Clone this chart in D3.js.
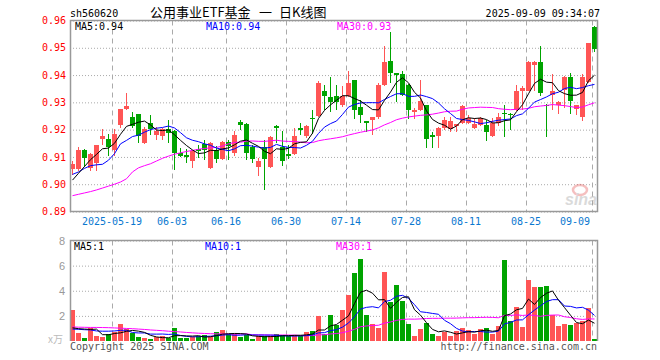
<!DOCTYPE html>
<html>
<head>
<meta charset="utf-8">
<script src="https://cdn.jsdelivr.net/npm/d3@7"></script>
<style>
  body { margin: 0; background: #fff; }
  svg { display: block; }
</style>
</head>
<body>
<svg width="660" height="360"></svg>
<script>
/*
    Sina style daily K-line chart for sh560620 (公用事业ETF基金)
    price candles + MA5/10/30 on top, volume bars + MA below
*/

// trading days shown on the chart
var dates = [
    "2025-05-08","2025-05-09","2025-05-12","2025-05-13","2025-05-14","2025-05-15","2025-05-16",
    "2025-05-19","2025-05-20","2025-05-21","2025-05-22","2025-05-23","2025-05-26","2025-05-27",
    "2025-05-28","2025-05-29","2025-05-30","2025-06-03","2025-06-04","2025-06-05","2025-06-06",
    "2025-06-09","2025-06-10","2025-06-11","2025-06-12","2025-06-13","2025-06-16","2025-06-17",
    "2025-06-18","2025-06-19","2025-06-20","2025-06-23","2025-06-24","2025-06-25","2025-06-26",
    "2025-06-27","2025-06-30","2025-07-01","2025-07-02","2025-07-03","2025-07-04","2025-07-07",
    "2025-07-08","2025-07-09","2025-07-10","2025-07-11","2025-07-14","2025-07-15","2025-07-16",
    "2025-07-17","2025-07-18","2025-07-21","2025-07-22","2025-07-23","2025-07-24","2025-07-25",
    "2025-07-28","2025-07-29","2025-07-30","2025-07-31","2025-08-01","2025-08-04","2025-08-05",
    "2025-08-06","2025-08-07","2025-08-08","2025-08-11","2025-08-12","2025-08-13","2025-08-14",
    "2025-08-15","2025-08-18","2025-08-19","2025-08-20","2025-08-21","2025-08-22","2025-08-25",
    "2025-08-26","2025-08-27","2025-08-28","2025-08-29","2025-09-01","2025-09-02","2025-09-03",
    "2025-09-04","2025-09-05","2025-09-08","2025-09-09"
];

var openP = [
    0.9055,0.9055,0.9125,0.9060,0.9078,0.9165,0.9165,0.9125,0.9216,0.9277,
    0.9246,0.9256,0.9152,0.9223,0.9181,0.9177,0.9204,0.9195,0.9114,0.9106,
    0.9085,0.9128,0.9148,0.9060,0.9127,0.9094,0.9154,0.9115,0.9228,0.9222,
    0.9137,0.9062,0.9137,0.9062,0.9215,0.9135,0.9112,0.9112,0.9206,0.9176,
    0.9244,0.9249,0.9342,0.9321,0.9323,0.9291,0.9325,0.9383,0.9283,0.9233,
    0.9235,0.9245,0.9365,0.9453,0.9406,0.9405,0.9365,0.9263,0.9273,0.9291,
    0.9181,0.9175,0.9206,0.9203,0.9214,0.9224,0.9224,0.9206,0.9218,0.9218,
    0.9175,0.9224,0.9261,0.9259,0.9273,0.9343,0.9343,0.9436,0.9447,0.9292,
    0.9328,0.9291,0.9347,0.9393,0.9275,0.9245,0.9374,0.9577
];
var highP = [
    0.9085,0.9138,0.9128,0.9115,0.9145,0.9203,0.9183,0.9203,0.9276,0.9334,
    0.9265,0.9258,0.9208,0.9255,0.9208,0.9207,0.9235,0.9198,0.9133,0.9130,
    0.9127,0.9143,0.9163,0.9155,0.9139,0.9158,0.9163,0.9194,0.9234,0.9225,
    0.9145,0.9096,0.9163,0.9175,0.9217,0.9194,0.9145,0.9206,0.9226,0.9218,
    0.9273,0.9377,0.9365,0.9392,0.9365,0.9359,0.9414,0.9383,0.9310,0.9233,
    0.9246,0.9371,0.9506,0.9558,0.9408,0.9414,0.9367,0.9279,0.9383,0.9292,
    0.9190,0.9208,0.9245,0.9245,0.9222,0.9292,0.9255,0.9242,0.9246,0.9236,
    0.9242,0.9261,0.9291,0.9260,0.9365,0.9361,0.9453,0.9450,0.9506,0.9295,
    0.9405,0.9304,0.9396,0.9408,0.9292,0.9405,0.9518,0.9580
];
var lowP = [
    0.9035,0.9050,0.9064,0.9050,0.9050,0.9142,0.9102,0.9103,0.9207,0.9272,
    0.9207,0.9152,0.9148,0.9180,0.9162,0.9163,0.9152,0.9051,0.9100,0.9078,
    0.9058,0.9097,0.9090,0.9057,0.9078,0.9090,0.9090,0.9103,0.9200,0.9090,
    0.9078,0.9030,0.8980,0.9058,0.9150,0.9066,0.9093,0.9108,0.9180,0.9170,
    0.9185,0.9245,0.9272,0.9266,0.9273,0.9283,0.9320,0.9240,0.9224,0.9193,
    0.9181,0.9240,0.9360,0.9371,0.9300,0.9325,0.9240,0.9240,0.9270,0.9134,
    0.9132,0.9132,0.9200,0.9193,0.9190,0.9220,0.9220,0.9204,0.9212,0.9160,
    0.9172,0.9212,0.9172,0.9200,0.9270,0.9273,0.9340,0.9343,0.9322,0.9172,
    0.9271,0.9257,0.9280,0.9257,0.9253,0.9230,0.9370,0.9484
];
var closeP = [
    0.9073,0.9125,0.9095,0.9110,0.9143,0.9177,0.9137,0.9183,0.9275,0.9288,
    0.9214,0.9176,0.9204,0.9204,0.9195,0.9204,0.9189,0.9113,0.9103,0.9100,
    0.9123,0.9123,0.9125,0.9151,0.9094,0.9154,0.9141,0.9182,0.9218,0.9115,
    0.9094,0.9084,0.9093,0.9173,0.9205,0.9084,0.9102,0.9176,0.9200,0.9215,
    0.9242,0.9372,0.9324,0.9301,0.9300,0.9325,0.9371,0.9273,0.9255,0.9224,
    0.9245,0.9365,0.9447,0.9408,0.9402,0.9328,0.9273,0.9273,0.9304,0.9165,
    0.9172,0.9206,0.9234,0.9233,0.9221,0.9288,0.9242,0.9220,0.9242,0.9193,
    0.9226,0.9246,0.9257,0.9257,0.9343,0.9353,0.9447,0.9447,0.9334,0.9289,
    0.9343,0.9301,0.9393,0.9304,0.9291,0.9393,0.9516,0.9494
];

// volume, in units of the volume axis
var volume = [
    2.50,0.60,0.21,1.05,0.37,0.29,0.56,0.71,1.32,0.97,
    0.65,0.28,0.21,0.15,0.33,0.37,0.24,1.00,0.21,0.21,
    0.30,0.40,0.45,0.33,0.69,0.86,0.57,0.55,0.29,0.50,
    0.15,0.37,0.37,0.37,0.53,0.45,0.40,0.50,0.40,0.69,
    0.80,1.97,0.52,2.03,1.26,2.50,3.68,5.45,6.55,2.03,
    1.32,1.03,5.53,3.08,4.47,3.21,1.32,0.37,0.92,1.47,
    0.53,0.37,0.74,0.37,0.76,1.00,0.84,0.55,0.92,1.00,
    0.55,1.16,6.45,1.58,2.68,1.10,4.87,4.32,4.32,4.39,
    2.03,1.16,1.39,1.29,1.47,1.58,2.60,0.13
];

// moving average values on the first days (their windows start before the chart)
var ma5Lead  = [0.9015,0.9040,0.9065,0.9090];
var ma10Lead = [0.9036,0.9045,0.9058,0.9068,0.9071,0.9073,0.9088,0.9112,0.9148];
var ma30Lead = [0.8958,0.8963,0.8968,0.8973,0.8979,0.8986,0.8993,0.9000,0.9008,0.9020,
                0.9045,0.9060,0.9068,0.9075,0.9085,0.9095,0.9103,0.9110,0.9115,0.9120,
                0.9124,0.9128,0.9131,0.9133,0.9135,0.9140,0.9148,0.9153,0.9154];
var vma5Lead  = [1.05,0.98,0.95,0.92];
var vma10Lead = [0.95,0.93,0.90,0.88,0.80,0.78,0.78,0.80,0.85];
var vma30Lead = [1.12,1.10,1.09,1.08,1.08,1.07,1.06,1.04,1.02,1.00,
                 0.98,0.95,0.92,0.88,0.85,0.82,0.78,0.75,0.72,0.68,
                 0.65,0.62,0.60,0.58,0.57,0.56,0.55,0.55,0.55];

// axis ticks
var tickDates  = ["2025-05-19","2025-06-03","2025-06-16","2025-06-30","2025-07-14",
                  "2025-07-28","2025-08-11","2025-08-25","2025-09-09"];
var tickLabels = ["2025-05-19","06-03","06-16","06-30","07-14","07-28","08-11","08-25","09-09"];
var priceTicks = [0.89,0.90,0.91,0.92,0.93,0.94,0.95,0.96];
var volTicks   = [2,4,6,8];

// legend texts as printed on the chart
var priceLegend = ["MA5:0.94", "MA10:0.94", "MA30:0.93"];
var volLegend   = ["MA5:1", "MA10:1", "MA30:1"];

// header texts
var code = "sh560620";
var titleParts = ["公用事业ETF基金", "一", "日K线图"];
var stamp = "2025-09-09 09:34:07";

// ---------------------------------------------------------------
var svg = d3.select("svg");
var mono = "'DejaVu Sans Mono', 'Liberation Mono', monospace";
var cjk = "'Noto Sans CJK SC', sans-serif";
var upColor = "#ff5555", downColor = "#00a400";
var gridColor = "#aaaaaa", frameColor = "#999999";
var lineColors = ["#000000", "#0000ff", "#ff00ff"];

var left = 70, right = 598;
var pTop = 20.5, pBottom = 211.5;
var vTop = 240.5, vBottom = 341;

var x = d3.scaleBand().domain(dates).range([left, right]).padding(0);
var y = d3.scaleLinear().domain([0.89, 0.96]).range([pBottom, pTop]);
var yv = d3.scaleLinear().domain([0, 8]).range([vBottom, vTop]);

var rows = dates.map(function(d, i) {
    return {date: d, o: openP[i], h: highP[i], l: lowP[i], c: closeP[i], v: volume[i]};
});

function movingAvg(vals, n, lead) {
    return vals.map(function(v, i) {
        if (i < n - 1) return lead[i];
        return d3.mean(vals.slice(i - n + 1, i + 1));
    });
}

var ma5 = movingAvg(closeP, 5, ma5Lead),
    ma10 = movingAvg(closeP, 10, ma10Lead),
    ma30 = movingAvg(closeP, 30, ma30Lead);
var vma5 = movingAvg(volume, 5, vma5Lead),
    vma10 = movingAvg(volume, 10, vma10Lead),
    vma30 = movingAvg(volume, 30, vma30Lead);

function cx(i) { return x(dates[i]) + 2.5; }
function colorOf(d) { return d.c >= d.o ? upColor : downColor; }

// header
svg.append("text").attr("x", 70).attr("y", 16.5)
    .style("font-family", mono).style("font-size", "10px").attr("fill", "#000").text(code);
svg.append("g").selectAll("text").data(titleParts).enter().append("text")
    .attr("x", function(d, i) { return [150, 259, 279][i]; })
    .attr("y", 17)
    .style("font-family", cjk).style("font-size", "13px").attr("fill", "#000")
    .text(function(d) { return d; });
svg.append("text").attr("x", 600).attr("y", 16.5).attr("text-anchor", "end")
    .style("font-family", mono).style("font-size", "10px").attr("fill", "#000").text(stamp);

// horizontal grid + price labels
var gy = svg.append("g").attr("transform", "translate(" + left + ",0)")
    .call(d3.axisLeft(y).tickValues(priceTicks).tickSize(-527).tickPadding(4).tickFormat(d3.format(".2f")));
gy.select(".domain").remove();
gy.selectAll("line").attr("stroke", gridColor).attr("stroke-dasharray", "1,2");
gy.selectAll("text").attr("fill", "#ff0000").style("font-family", mono).style("font-size", "10px");

var gv = svg.append("g").attr("transform", "translate(" + left + ",0)")
    .call(d3.axisLeft(yv).tickValues(volTicks).tickSize(-527).tickPadding(5).tickFormat(d3.format("d")));
gv.select(".domain").remove();
gv.selectAll("line").attr("stroke", gridColor).attr("stroke-dasharray", "1,2");
gv.selectAll("text").attr("fill", "#999").style("font-family", "'Liberation Sans', Arial, sans-serif").style("font-size", "11px");

// vertical dashed grid lines
tickDates.forEach(function(d) {
    var xx = Math.round(x(d)) + 0.5;
    [[pTop, pBottom], [vTop, vBottom]].forEach(function(r) {
        svg.append("line").attr("x1", xx).attr("x2", xx).attr("y1", r[0]).attr("y2", r[1])
            .attr("stroke", gridColor).attr("stroke-dasharray", "5,4");
    });
});

// date labels
svg.append("g").selectAll("text").data(tickDates).enter().append("text")
    .attr("x", function(d, i) { return i == tickDates.length - 1 ? 590 : x(d); })
    .attr("y", 224.5)
    .attr("text-anchor", function(d, i) { return i == tickDates.length - 1 ? "end" : "middle"; })
    .style("font-family", mono).style("font-size", "10px").attr("fill", "#0a78d0")
    .text(function(d, i) { return tickLabels[i]; });

// watermark
var wm = svg.append("g").attr("opacity", 0.3);
wm.append("ellipse").attr("cx", 580).attr("cy", 190).attr("rx", 7).attr("ry", 5)
    .attr("fill", "none").attr("stroke", "#e03030").attr("stroke-width", 2.5);
wm.append("text").attr("x", 597).attr("y", 204.5).attr("text-anchor", "end")
    .style("font-family", "'Liberation Sans', Arial, sans-serif").style("font-size", "16px")
    .style("font-weight", "bold").style("font-style", "italic").attr("fill", "#888").text("sina");

// candles
var candles = svg.append("g").attr("shape-rendering", "crispEdges");
candles.selectAll(".wick").data(rows).enter().append("rect")
    .attr("x", function(d) { return x(d.date) + 2; })
    .attr("width", 1)
    .attr("y", function(d) { return y(d.h); })
    .attr("height", function(d) { return Math.max(1, y(d.l) - y(d.h)); })
    .attr("fill", colorOf);
candles.selectAll(".body").data(rows).enter().append("rect")
    .attr("x", function(d) { return x(d.date); })
    .attr("width", 5)
    .attr("y", function(d) { return y(Math.max(d.o, d.c)); })
    .attr("height", function(d) { return Math.max(1, Math.abs(y(d.o) - y(d.c))); })
    .attr("fill", colorOf);

// volume bars
svg.append("g").attr("shape-rendering", "crispEdges")
    .selectAll("rect").data(rows).enter().append("rect")
    .attr("x", function(d) { return x(d.date); })
    .attr("width", 5)
    .attr("y", function(d) { return yv(d.v); })
    .attr("height", function(d) { return vBottom - yv(d.v); })
    .attr("fill", colorOf);

// moving average lines
function drawLine(vals, scale, color) {
    var line = d3.line().x(function(d, i) { return cx(i); }).y(function(d) { return scale(d); });
    svg.append("path").datum(vals).attr("d", line)
        .attr("fill", "none").attr("stroke", color).attr("stroke-width", 1);
}
drawLine(ma30, y, lineColors[2]);
drawLine(ma10, y, lineColors[1]);
drawLine(ma5, y, lineColors[0]);
drawLine(vma30, yv, lineColors[2]);
drawLine(vma10, yv, lineColors[1]);
drawLine(vma5, yv, lineColors[0]);

// frames
svg.append("rect").attr("x", 70.5).attr("y", pTop).attr("width", 527).attr("height", pBottom - pTop)
    .attr("fill", "none").attr("stroke", frameColor).attr("stroke-width", 1.5);
svg.append("path").attr("d", "M70.5," + vBottom + "V" + vTop + "H597.5V" + vBottom)
    .attr("fill", "none").attr("stroke", frameColor).attr("stroke-width", 1.5);

// legends
var legendX = [75, 206, 337];
svg.append("g").selectAll("text").data(priceLegend).enter().append("text")
    .attr("x", function(d, i) { return legendX[i]; }).attr("y", 30)
    .style("font-family", mono).style("font-size", "10px")
    .attr("fill", function(d, i) { return lineColors[i]; })
    .text(function(d) { return d; });
svg.append("g").selectAll("text").data(volLegend).enter().append("text")
    .attr("x", function(d, i) { return legendX[i] - 1; }).attr("y", 250)
    .style("font-family", mono).style("font-size", "10px")
    .attr("fill", function(d, i) { return lineColors[i]; })
    .text(function(d) { return d; });

// footer
svg.append("text").attr("x", 63).attr("y", 343).attr("text-anchor", "end")
    .style("font-family", cjk).style("font-size", "10px").attr("fill", "#bbb").text("x万");
svg.append("text").attr("x", 70).attr("y", 349.5)
    .style("font-family", mono).style("font-size", "10px").attr("fill", "#555").text("Copyright 2025 SINA.COM");
svg.append("text").attr("x", 597).attr("y", 349.5).attr("text-anchor", "end")
    .style("font-family", mono).style("font-size", "10px").attr("fill", "#555").text("http://finance.sina.com.cn");
</script>
</body>
</html>
